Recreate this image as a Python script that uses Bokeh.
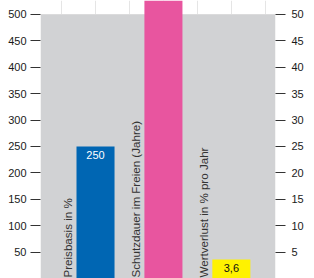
import math
from bokeh.plotting import figure
from bokeh.models import (Range1d, LinearAxis, FixedTicker, BoxAnnotation)
from bokeh.core.properties import value
from bokeh.embed import file_html
from bokeh.resources import INLINE

# ---- data ----
categories = ["Preisbasis in %", "Schutzdauer im Freien (Jahre)", "Wertverlust in % pro Jahr"]
left_values = [250]            # Preisbasis in % (left axis)
right_values = [60, 3.6]       # Schutzdauer (Jahre), Wertverlust % (right axis)
value_labels = ["250", "", "3,6"]
left_ticks = [50, 100, 150, 200, 250, 300, 350, 400, 450, 500]
right_ticks = [5, 10, 15, 20, 25, 30, 35, 40, 45, 50]

FONT = "Liberation Sans"
BLUE = "#0066b3"
PINK = "#e8559f"
YELLOW = "#fff200"
GRAY = "#d1d2d4"

p = figure(width=314, height=278, output_backend="svg", toolbar_location=None,
           x_range=Range1d(-0.81, 2.65), y_range=Range1d(0, 526.5),
           x_axis_location=None, y_axis_location=None,
           min_border_left=40, min_border_right=39, min_border_top=0, min_border_bottom=0)
p.extra_y_ranges = {"right": Range1d(0, 52.65)}
p.outline_line_color = None
p.background_fill_color = "white"
p.border_fill_color = "white"

p.add_layout(BoxAnnotation(bottom=0, top=500, fill_color=GRAY, fill_alpha=1,
                           line_color=None, level="underlay"))

bw = 0.56
xs = [0, 1, 2]
p.vbar(x=[xs[0]], top=left_values, width=bw, color=BLUE, line_color=None)
p.vbar(x=xs[1:], top=right_values, width=bw, color=[PINK, YELLOW], line_color=None,
       y_range_name="right")

# value labels
p.text(x=[xs[0]], y=left_values, text=[value_labels[0]], text_color="white",
       text_font=value(FONT), text_font_size="11px", text_align="center",
       text_baseline="top", y_offset=5)
p.text(x=[xs[2]], y=[right_values[1]], text=[value_labels[2]], text_color="#111111",
       text_font=value(FONT), text_font_size="11px", text_align="center",
       text_baseline="top", y_offset=5, y_range_name="right")

# rotated category labels (placed just left of each bar)
p.text(x=[x - bw / 2 for x in xs], y=[0, 0, 0], text=categories, angle=math.pi / 2,
       text_color="#333333", text_font=value(FONT), text_font_size="11.6px",
       text_align="left", text_baseline="middle", x_offset=-9, y_offset=-1)

def make_axis(ticks, **kw):
    ax = LinearAxis(ticker=FixedTicker(ticks=ticks), **kw)
    ax.axis_line_color = None
    ax.major_tick_out = 10
    ax.major_tick_in = 0
    ax.minor_tick_line_color = None
    ax.major_tick_line_color = "#333333"
    ax.major_tick_line_width = 1
    ax.major_label_text_font = FONT
    ax.major_label_text_font_size = "11px"
    ax.major_label_text_color = "#1a1a1a"
    return ax

la = make_axis(left_ticks)
la.major_label_standoff = 4
p.add_layout(la, "left")
ra = make_axis(right_ticks, y_range_name="right")
ra.major_label_standoff = 6
p.add_layout(ra, "right")

html = file_html(p, INLINE)
html = html.replace("<body>", '<body style="margin:0">', 1)
open("out.html", "w").write(html)
